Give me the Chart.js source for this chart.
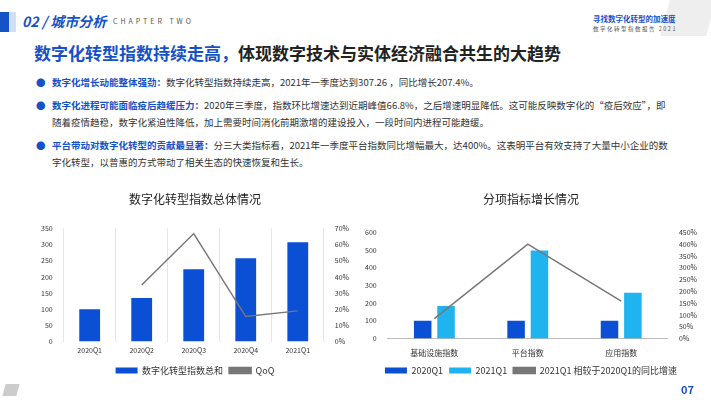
<!DOCTYPE html><html><head><meta charset="utf-8">
<script src="https://cdn.jsdelivr.net/npm/chart.js@4"></script>
<style>
body{margin:0;width:711px;height:400px;background:#fff;position:relative;overflow:hidden;font-family:"Noto Sans CJK SC","Noto Sans",sans-serif;}
.abs{position:absolute;white-space:nowrap}
.b{color:#1552c8;font-weight:bold}
p{margin:0}
</style></head><body>
<div class="abs" style="left:665px;top:0;width:46px;height:36px;background:#eee;transform:skewX(-15deg)"></div>
<div class="abs" style="left:0;top:12px;width:9px;height:20px;background:#1552c8"></div>
<div class="abs" style="left:9px;top:12px;width:7px;height:20px;background:#cfe0f7"></div>
<div class="abs" style="left:22px;top:11px;font-size:14px;color:#1552c8;font-style:italic;font-weight:bold">02 / 城市分析</div>
<div class="abs" style="left:113px;top:16px;font-size:7px;color:#555;letter-spacing:3px">CHAPTER TWO</div>
<div class="abs" style="left:593px;top:13px;font-size:7.5px;color:#1552c8;font-weight:bold">寻找数字化转型的加速度</div>
<div class="abs" style="left:593px;top:25px;font-size:5.5px;color:#555;letter-spacing:1.5px">数字化转型指数报告 2021</div>
<div class="abs" style="left:34px;top:40px;font-size:17px;font-weight:bold;color:#222"><span style="color:#1552c8">数字化转型指数持续走高，</span>体现数字技术与实体经济融合共生的大趋势</div>
<div class="abs" style="left:34px;top:74px;font-size:9.5px;color:#333;line-height:17px;width:640px;white-space:normal">
<p style="position:relative;padding-left:18px"><span style="position:absolute;left:2px;color:#1552c8">●</span><span class="b">数字化增长动能整体强劲：</span>数字化转型指数持续走高，2021年一季度达到307.26 ，同比增长207.4%。</p>
<p style="position:relative;padding-left:18px;margin-top:6px"><span style="position:absolute;left:2px;color:#1552c8">●</span><span class="b">数字化进程可能面临疫后趋缓压力：</span>2020年三季度，指数环比增速达到近期峰值66.8%，之后增速明显降低。这可能反映数字化的“疫后效应”，即随着疫情趋稳，数字化紧迫性降低，加上需要时间消化前期激增的建设投入，一段时间内进程可能趋缓。</p>
<p style="position:relative;padding-left:18px;margin-top:6px"><span style="position:absolute;left:2px;color:#1552c8">●</span><span class="b">平台带动对数字化转型的贡献最显著：</span>分三大类指标看，2021年一季度平台指数同比增幅最大，达400%。这表明平台有效支持了大量中小企业的数字化转型，以普惠的方式带动了相关生态的快速恢复和生长。</p>
</div>
<div class="abs" style="left:38px;top:190px;width:314px;height:195px"><canvas id="c1"></canvas></div>
<div class="abs" style="left:362px;top:190px;width:338px;height:195px"><canvas id="c2"></canvas></div>
<div class="abs" style="left:4px;top:384px;width:14px;height:12px;background:#ccc;transform:skewX(-15deg)"></div>
<div class="abs" style="left:681px;top:381px;font-size:11px;color:#1552c8;font-weight:bold">07</div>
<script>
const cats1=['2020Q1','2020Q2','2020Q3','2020Q4','2021Q1'];
const idx1=[100,135,224,258,307.26];
const qoq=[null,35,66.8,15.5,19];
const cats2=['基础设施指数','平台指数','应用指数'];
const v2020=[100,100,100];
const v2021=[184,497,258];
const growth=[84,400,158];
const blue='#0b4fd4',light='#1fb4ef',gray='#777';
Chart.defaults.font.family='"Noto Sans CJK SC",sans-serif';
Chart.defaults.font.size=8;Chart.defaults.color='#333';
function lg(){return {position:'bottom',labels:{boxWidth:22,boxHeight:6,padding:6,font:{size:9},sort:(a,b)=>a.datasetIndex-b.datasetIndex}};}
new Chart(document.getElementById('c1'),{data:{labels:cats1,datasets:[
{type:'bar',label:'数字化转型指数总和',data:idx1,backgroundColor:blue,yAxisID:'y',barPercentage:0.5,order:2},
{type:'line',label:'QoQ',data:qoq,borderColor:gray,backgroundColor:gray,borderWidth:1.5,pointRadius:0,yAxisID:'y1',order:1}]},
options:{responsive:true,maintainAspectRatio:false,animation:false,
plugins:{title:{display:true,text:'数字化转型指数总体情况',font:{size:12,weight:'normal'},color:'#222',padding:{top:2,bottom:22}},legend:lg()},
scales:{x:{grid:{display:true,drawTicks:false,color:'#e6e6e6'},border:{display:false},ticks:{font:{size:7},padding:5}},
y:{min:0,max:350,ticks:{stepSize:50,font:{size:7}},grid:{display:false},border:{display:false}},
y1:{position:'right',min:0,max:70,ticks:{stepSize:10,callback:v=>v+'%',font:{size:7}},grid:{display:false},border:{display:false}}}}});
new Chart(document.getElementById('c2'),{data:{labels:cats2,datasets:[
{type:'bar',label:'2020Q1',data:v2020,backgroundColor:blue,yAxisID:'y',order:2,barPercentage:0.75,categoryPercentage:0.5},
{type:'bar',label:'2021Q1',data:v2021,backgroundColor:light,yAxisID:'y',order:2,barPercentage:0.75,categoryPercentage:0.5},
{type:'line',label:'2021Q1 相较于2020Q1的同比增速',data:growth,borderColor:gray,backgroundColor:gray,borderWidth:1.5,pointRadius:0,yAxisID:'y1',order:1}]},
options:{responsive:true,maintainAspectRatio:false,animation:false,
plugins:{title:{display:true,text:'分项指标增长情况',font:{size:12,weight:'normal'},color:'#222',padding:{top:2,bottom:26}},legend:lg()},
scales:{x:{grid:{display:false},border:{display:true,color:'#bbb'},ticks:{font:{size:8},padding:2}},
y:{min:0,max:600,ticks:{stepSize:100,font:{size:7}},grid:{display:false},border:{display:false}},
y1:{position:'right',min:0,max:450,ticks:{stepSize:50,callback:v=>v+'%',font:{size:7}},grid:{display:false},border:{display:false}}}}});
</script></body></html>
